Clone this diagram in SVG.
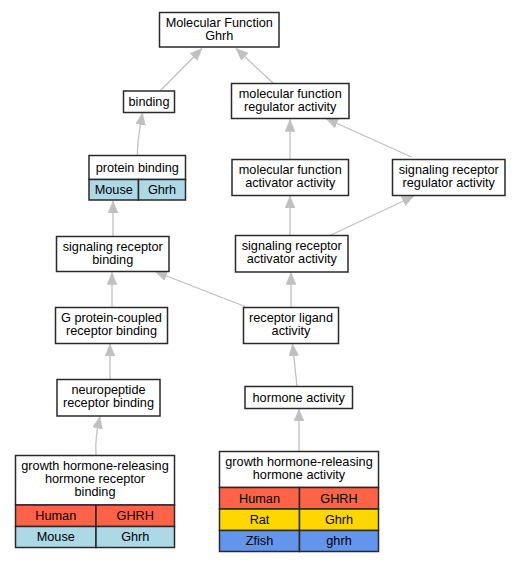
<svg xmlns="http://www.w3.org/2000/svg" width="521" height="563" viewBox="0 0 521 563">
<defs>
<style>
.n{fill:#fff;stroke:#2a2a2a;stroke-width:1.5}
.c{stroke:#2a2a2a;stroke-width:1.5}
.t{font-family:"Liberation Sans",Arial,sans-serif;font-size:12.7px;fill:#000;text-anchor:middle}
.e{fill:none;stroke:#c0c0c0;stroke-width:1.3;marker-end:url(#a)}
.hu{fill:#ff6347}.mo{fill:#add8e6}.ra{fill:#ffd700}.zf{fill:#6495ed}
</style>
<marker id="a" markerUnits="userSpaceOnUse" markerWidth="13" markerHeight="11" refX="12" refY="5" orient="auto" viewBox="0 0 13 11">
<path d="M0,0 L12,5 L0,10 z" fill="#c0c0c0" stroke="#c0c0c0" stroke-width="0.5"/>
</marker>
</defs>
<rect width="521" height="563" fill="#fff"/>
<g id="edges">
<path class="e" d="M160,91 L202,48.5"/>
<path class="e" d="M273,83 L236,48.5"/>
<path class="e" d="M137.5,155.5 C137,140 140,128 142.5,113"/>
<path class="e" d="M290,159 L290,119.5"/>
<path class="e" d="M411.5,157 L326,118.5"/>
<path class="e" d="M113,236.5 L113,201"/>
<path class="e" d="M290,235 L290,196"/>
<path class="e" d="M330,235.5 L414,196"/>
<path class="e" d="M112,307.5 L112,272.5"/>
<path class="e" d="M245,306.5 L155,271.5"/>
<path class="e" d="M291,307.5 L291,272.5"/>
<path class="e" d="M110,379 L110,344"/>
<path class="e" d="M96,455.5 C95,440 97,430 100,416.5"/>
<path class="e" d="M297,386.5 L292.5,344"/>
<path class="e" d="M299,451.5 L299,409"/>
</g>
<g id="mf">
<rect class="n" x="159.5" y="12.5" width="119.5" height="34.5"/>
<text class="t" x="219.25" y="26.5">Molecular Function</text>
<text class="t" x="219.25" y="39.5">Ghrh</text>
</g>
<g id="binding">
<rect class="n" x="123.5" y="91" width="51" height="21.5"/>
<text class="t" x="149" y="105.5">binding</text>
</g>
<g id="mfreg">
<rect class="n" x="231.5" y="83.5" width="117.5" height="35"/>
<text class="t" x="290.25" y="97.5">molecular function</text>
<text class="t" x="290.25" y="110.5">regulator activity</text>
</g>
<g id="protein">
<rect class="n" x="89" y="155.5" width="96.5" height="24"/>
<rect class="mo c" x="89" y="179.5" width="49.5" height="20.5"/>
<rect class="mo c" x="138.5" y="179.5" width="47" height="20.5"/>
<text class="t" x="137.25" y="171.5">protein binding</text>
<text class="t" x="113.75" y="194">Mouse</text>
<text class="t" x="162" y="194">Ghrh</text>
</g>
<g id="mfact">
<rect class="n" x="232" y="159.5" width="116.5" height="36"/>
<text class="t" x="290.25" y="174">molecular function</text>
<text class="t" x="290.25" y="187">activator activity</text>
</g>
<g id="srreg">
<rect class="n" x="392.5" y="159.5" width="112.5" height="36"/>
<text class="t" x="448.75" y="174">signaling receptor</text>
<text class="t" x="448.75" y="187">regulator activity</text>
</g>
<g id="srbind">
<rect class="n" x="56.5" y="236.5" width="112.5" height="35"/>
<text class="t" x="112.75" y="251">signaling receptor</text>
<text class="t" x="112.75" y="264">binding</text>
</g>
<g id="sract">
<rect class="n" x="235.5" y="235.5" width="112.5" height="36.5"/>
<text class="t" x="291.75" y="250">signaling receptor</text>
<text class="t" x="291.75" y="263">activator activity</text>
</g>
<g id="gpcr">
<rect class="n" x="55.5" y="307.5" width="112" height="36"/>
<text class="t" x="111.5" y="322">G protein-coupled</text>
<text class="t" x="111.5" y="335">receptor binding</text>
</g>
<g id="ligand">
<rect class="n" x="243.5" y="307.5" width="95" height="36"/>
<text class="t" x="291" y="322">receptor ligand</text>
<text class="t" x="291" y="335">activity</text>
</g>
<g id="neuro">
<rect class="n" x="57" y="379.5" width="103" height="36.5"/>
<text class="t" x="108.5" y="394">neuropeptide</text>
<text class="t" x="108.5" y="407">receptor binding</text>
</g>
<g id="hormone">
<rect class="n" x="245" y="386.5" width="107.5" height="22"/>
<text class="t" x="298.75" y="401.5">hormone activity</text>
</g>
<g id="ghrhr">
<rect class="n" x="15.5" y="455.5" width="159" height="49.5"/>
<rect class="hu c" x="15.5" y="505" width="80.5" height="21.5"/>
<rect class="hu c" x="96" y="505" width="78.5" height="21.5"/>
<rect class="mo c" x="15.5" y="526.5" width="80.5" height="21"/>
<rect class="mo c" x="96" y="526.5" width="78.5" height="21"/>
<text class="t" x="95" y="469.5">growth hormone-releasing</text>
<text class="t" x="95" y="482.5">hormone receptor</text>
<text class="t" x="95" y="495.5">binding</text>
<text class="t" x="55.75" y="520">Human</text>
<text class="t" x="135.25" y="520">GHRH</text>
<text class="t" x="55.75" y="541">Mouse</text>
<text class="t" x="135.25" y="541">Ghrh</text>
</g>
<g id="ghrha">
<rect class="n" x="219.5" y="451.5" width="159" height="36"/>
<rect class="hu c" x="219.5" y="487.5" width="80" height="21.5"/>
<rect class="hu c" x="299.5" y="487.5" width="79" height="21.5"/>
<rect class="ra c" x="219.5" y="509" width="80" height="21.5"/>
<rect class="ra c" x="299.5" y="509" width="79" height="21.5"/>
<rect class="zf c" x="219.5" y="530.5" width="80" height="21"/>
<rect class="zf c" x="299.5" y="530.5" width="79" height="21"/>
<text class="t" x="299" y="466">growth hormone-releasing</text>
<text class="t" x="299" y="479">hormone activity</text>
<text class="t" x="259.5" y="502.5">Human</text>
<text class="t" x="339" y="502.5">GHRH</text>
<text class="t" x="259.5" y="524">Rat</text>
<text class="t" x="339" y="524">Ghrh</text>
<text class="t" x="259.5" y="545">Zfish</text>
<text class="t" x="339" y="545">ghrh</text>
</g>
</svg>
